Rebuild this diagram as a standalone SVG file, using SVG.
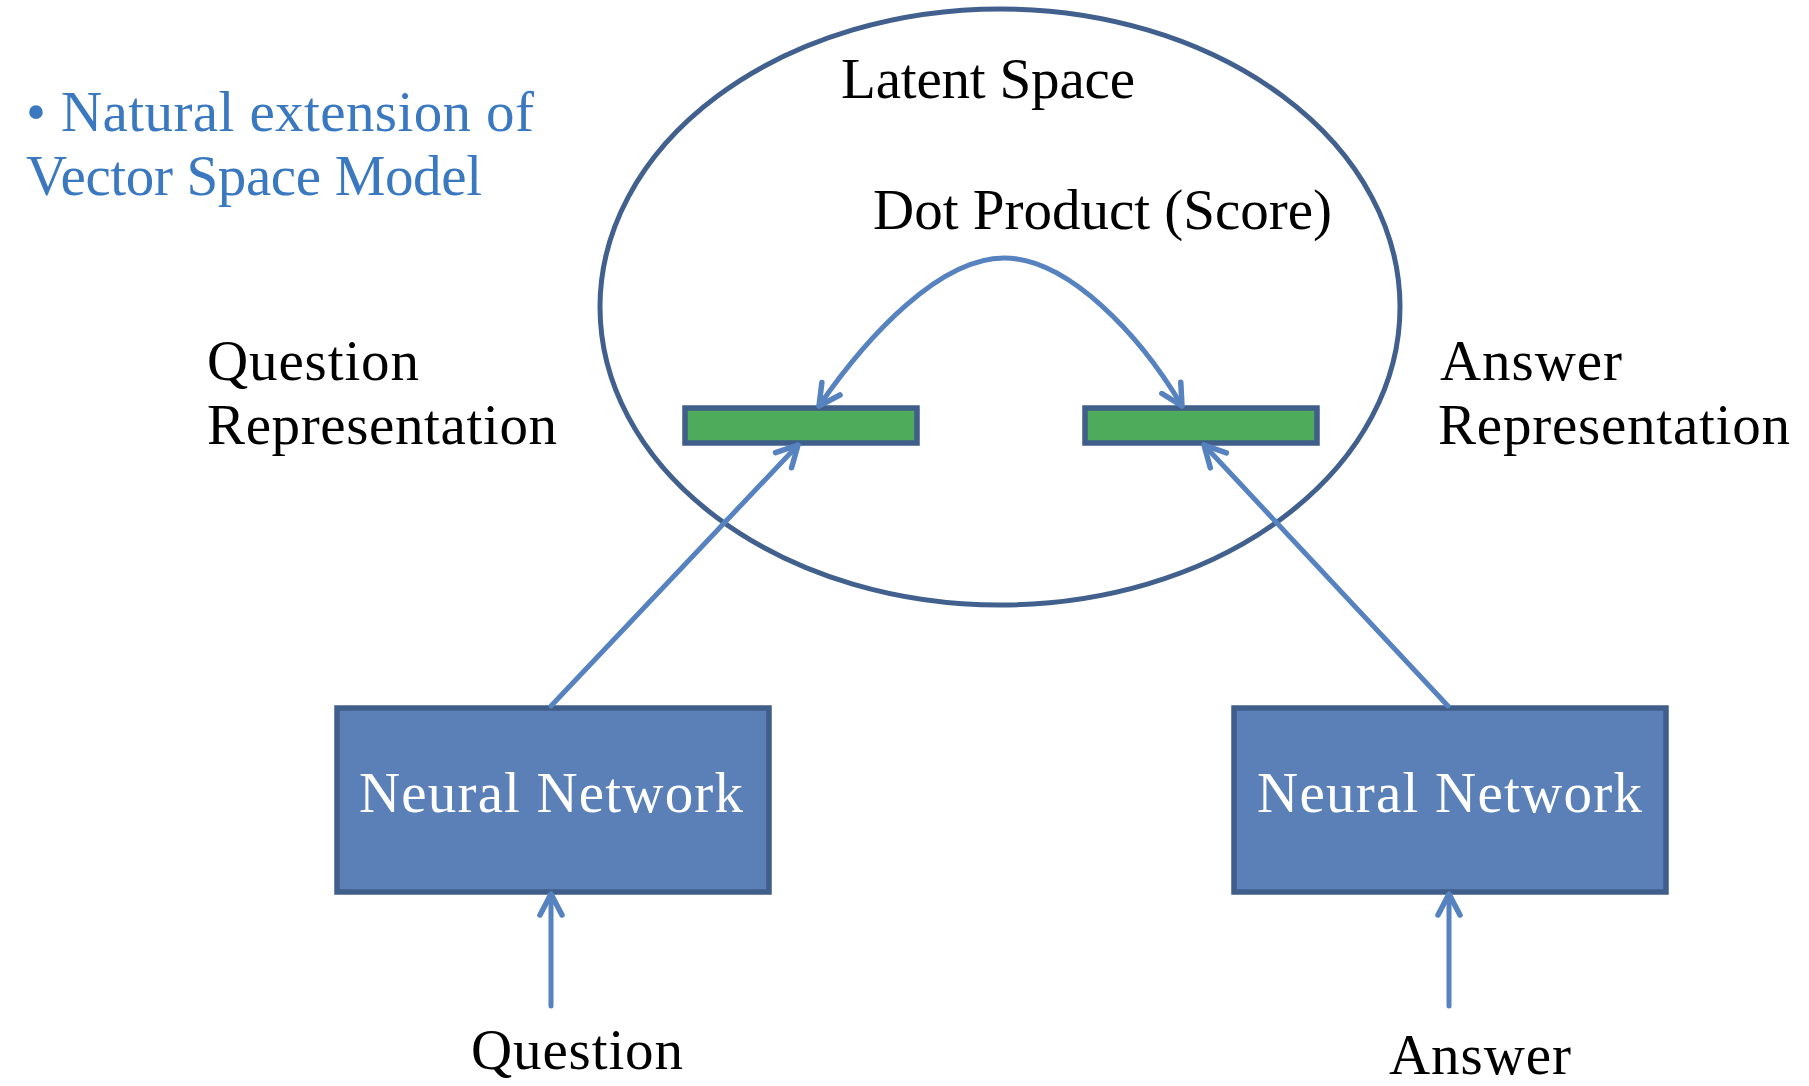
<svg xmlns="http://www.w3.org/2000/svg" width="1809" height="1086" viewBox="0 0 1809 1086">
<style>
.t{font-family:"Liberation Serif","Times New Roman",serif;font-size:57px;fill:#000}
.bl{fill:#3A78C0}
.wh{fill:#FFFFFF}
.nn{fill:#5A80B7;stroke:#3F5E8A;stroke-width:5.5}
.bar{fill:#4EAB5B;stroke:#3F5E8A;stroke-width:5.5}
.con{fill:none;stroke:#5682BF;stroke-width:5;stroke-linecap:round}
</style>
<defs>
<marker id="arr" markerUnits="userSpaceOnUse" markerWidth="60" markerHeight="60" refX="0" refY="0" viewBox="-30 -30 60 60" orient="auto-start-reverse" overflow="visible">
<path d="M-21,-11 L0,0 L-21,11" fill="none" stroke="#5682BF" stroke-width="5.5" stroke-linecap="round" stroke-linejoin="round"/>
</marker>
</defs>
<rect width="1809" height="1086" fill="#FFFFFF"/>
<g id="bullet">
<text class="t bl" x="26" y="131" textLength="508">• Natural extension of</text>
<text class="t bl" x="26" y="195" textLength="456">Vector Space Model</text>
</g>
<g id="latent-space">
<ellipse cx="1000" cy="307" rx="400" ry="298" fill="none" stroke="#41608E" stroke-width="5"/>
<text class="t" x="841" y="98" textLength="294">Latent Space</text>
<text class="t" x="873" y="229" textLength="459">Dot Product (Score)</text>
</g>
<g id="question-rep">
<rect class="bar" x="685" y="408" width="232" height="35"/>
<text class="t" x="207" y="380" textLength="212">Question</text>
<text class="t" x="207" y="444" textLength="350">Representation</text>
</g>
<g id="answer-rep">
<rect class="bar" x="1085" y="408" width="232" height="35"/>
<text class="t" x="1440" y="380" textLength="182">Answer</text>
<text class="t" x="1438" y="444" textLength="352">Representation</text>
</g>
<g id="nn-question">
<rect class="nn" x="337" y="708" width="432" height="184"/>
<text class="t wh" x="359" y="812" textLength="384">Neural Network</text>
</g>
<g id="nn-answer">
<rect class="nn" x="1234" y="708" width="432" height="184"/>
<text class="t wh" x="1257" y="812" textLength="385">Neural Network</text>
</g>
<g id="question">
<text class="t" x="471" y="1069" textLength="212">Question</text>
</g>
<g id="answer">
<text class="t" x="1389" y="1074" textLength="182">Answer</text>
</g>
<g id="connectors">
<path class="con" d="M819,406 C868,335 940,258 1004,258 C1068,258 1140,335 1182,406" marker-start="url(#arr)" marker-end="url(#arr)"/>
<line class="con" x1="551" y1="706" x2="798" y2="445" marker-end="url(#arr)"/>
<line class="con" x1="1448" y1="706" x2="1204" y2="445" marker-end="url(#arr)"/>
<line class="con" x1="551" y1="1006" x2="551" y2="894" marker-end="url(#arr)"/>
<line class="con" x1="1449" y1="1006" x2="1449" y2="894" marker-end="url(#arr)"/>
</g>
</svg>
